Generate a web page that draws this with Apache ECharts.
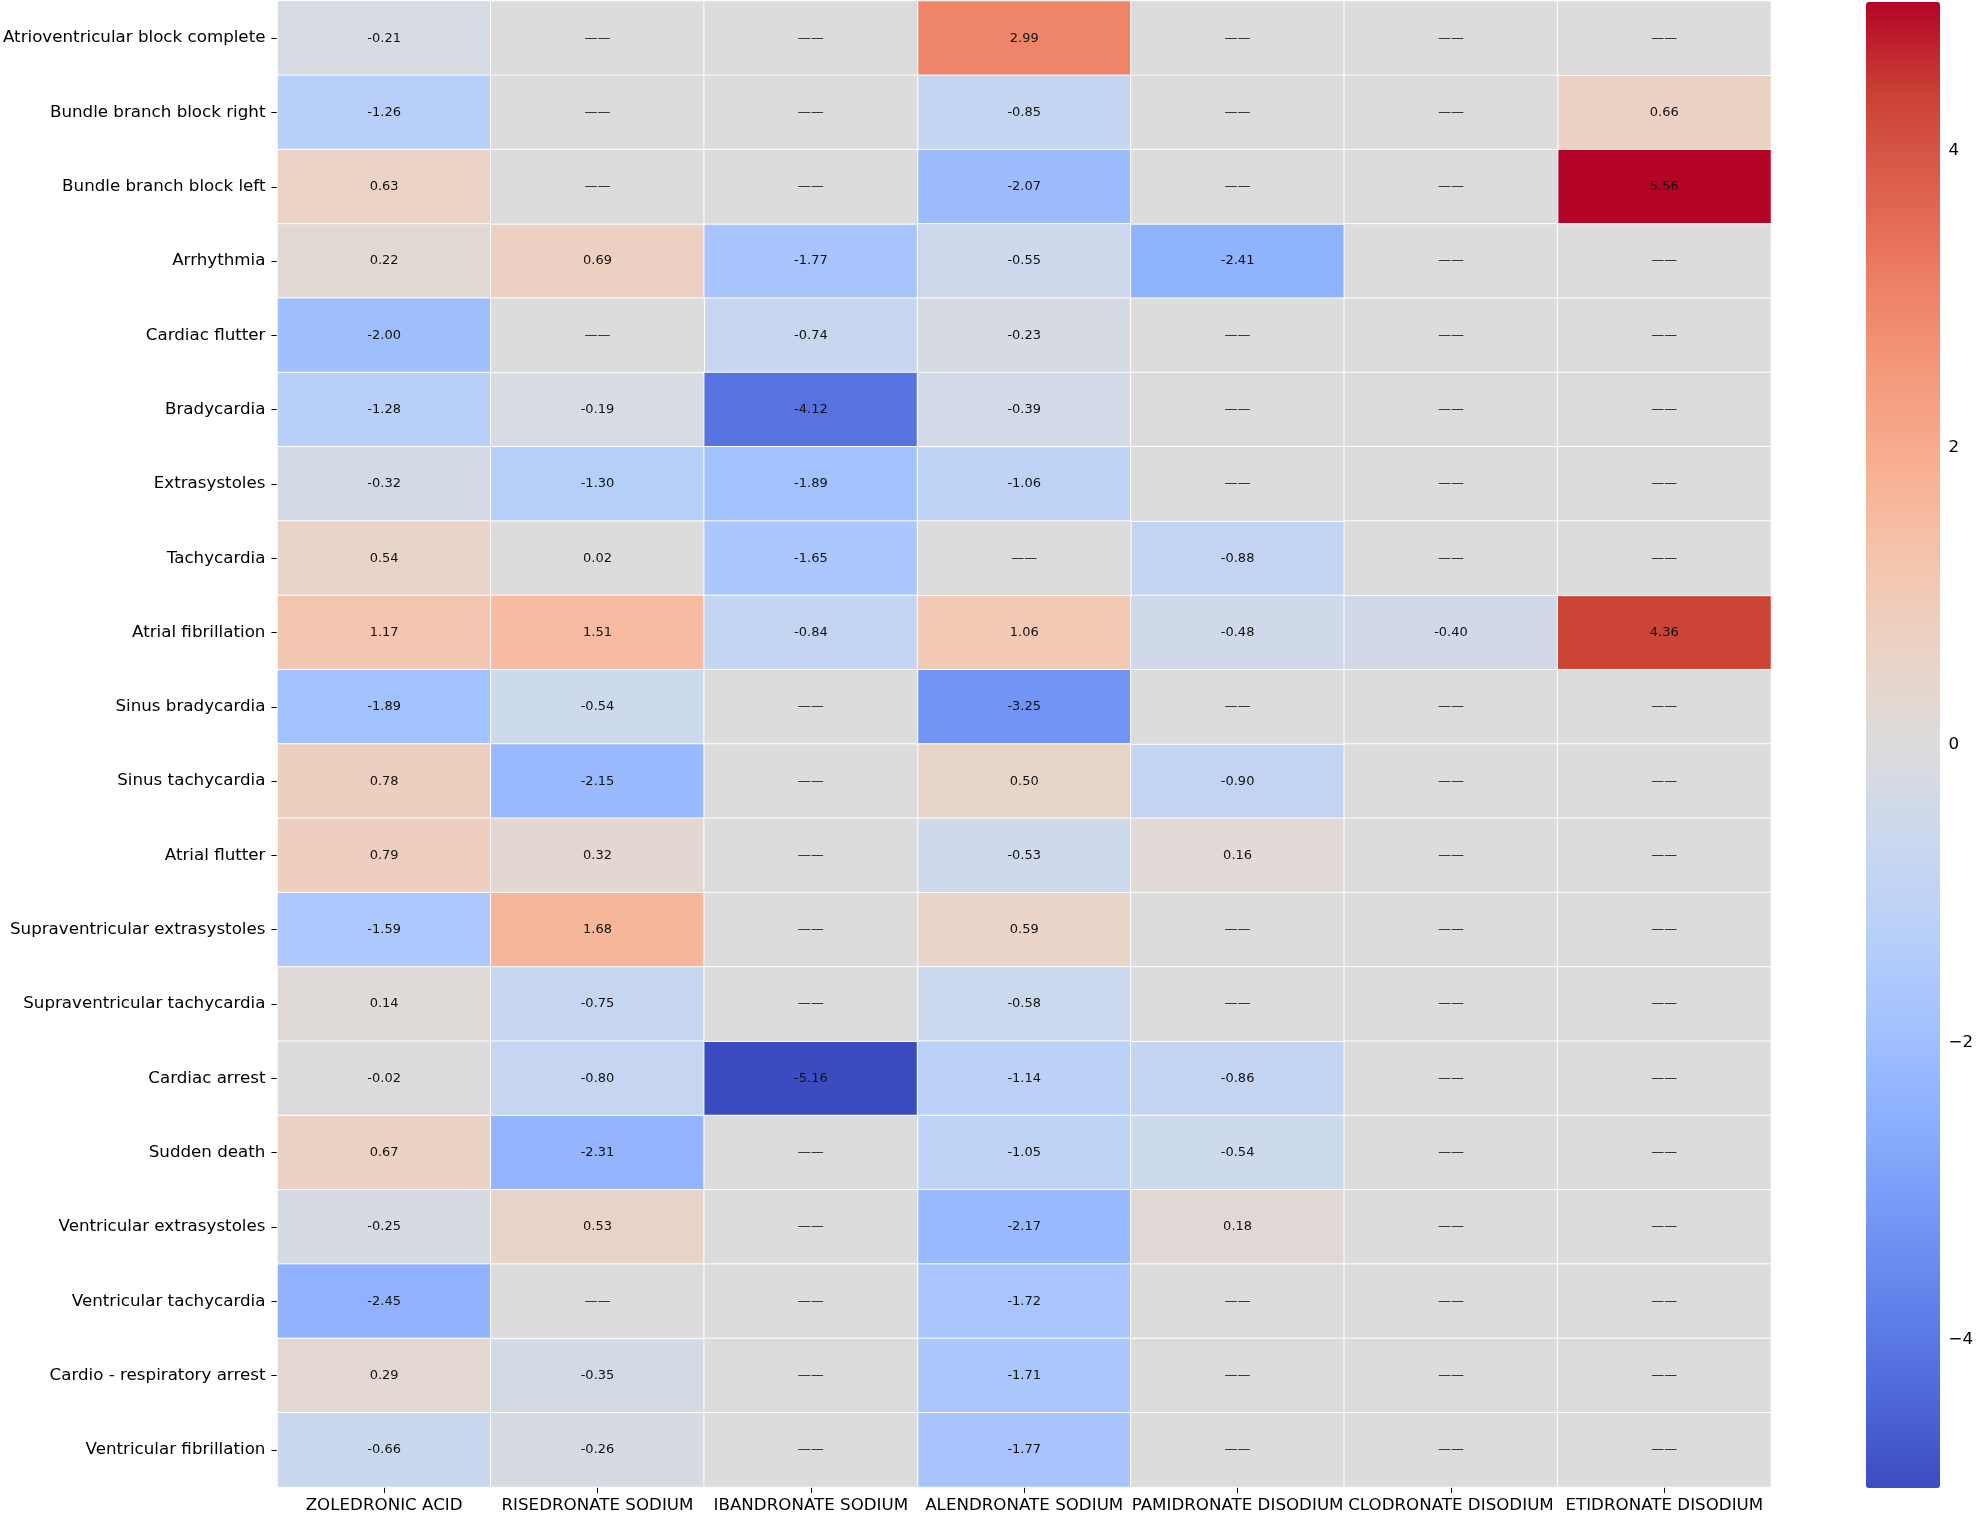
<!DOCTYPE html>
<html>
<head>
<meta charset="utf-8">
<script src="https://cdn.jsdelivr.net/npm/echarts@6/dist/echarts.min.js"></script>
<style>
html,body{margin:0;padding:0;background:#fff;}
#chart{width:1976px;height:1514px;}
</style>
</head>
<body>
<div id="chart"></div>
<script>
const drugs = ['ZOLEDRONIC ACID','RISEDRONATE SODIUM','IBANDRONATE SODIUM','ALENDRONATE SODIUM','PAMIDRONATE DISODIUM','CLODRONATE DISODIUM','ETIDRONATE DISODIUM'];
const events = ['Atrioventricular block complete','Bundle branch block right','Bundle branch block left','Arrhythmia','Cardiac flutter','Bradycardia','Extrasystoles','Tachycardia','Atrial fibrillation','Sinus bradycardia','Sinus tachycardia','Atrial flutter','Supraventricular extrasystoles','Supraventricular tachycardia','Cardiac arrest','Sudden death','Ventricular extrasystoles','Ventricular tachycardia','Cardio - respiratory arrest','Ventricular fibrillation'];
// one row per event, columns follow drugs; null = no data
const zoledronicAcid      = [-0.21,-1.26,0.63,0.22,-2.00,-1.28,-0.32,0.54,1.17,-1.89,0.78,0.79,-1.59,0.14,-0.02,0.67,-0.25,-2.45,0.29,-0.66];
const risedronateSodium   = [null,null,null,0.69,null,-0.19,-1.30,0.02,1.51,-0.54,-2.15,0.32,1.68,-0.75,-0.80,-2.31,0.53,null,-0.35,-0.26];
const ibandronateSodium   = [null,null,null,-1.77,-0.74,-4.12,-1.89,-1.65,-0.84,null,null,null,null,null,-5.16,null,null,null,null,null];
const alendronateSodium   = [2.99,-0.85,-2.07,-0.55,-0.23,-0.39,-1.06,null,1.06,-3.25,0.50,-0.53,0.59,-0.58,-1.14,-1.05,-2.17,-1.72,-1.71,-1.77];
const pamidronateDisodium = [null,null,null,-2.41,null,null,null,-0.88,-0.48,null,-0.90,0.16,null,null,-0.86,-0.54,0.18,null,null,null];
const clodronateDisodium  = [null,null,null,null,null,null,null,null,-0.40,null,null,null,null,null,null,null,null,null,null,null];
const etidronateDisodium  = [null,0.66,5.56,null,null,null,null,null,4.36,null,null,null,null,null,null,null,null,null,null,null];
const columns = [zoledronicAcid,risedronateSodium,ibandronateSodium,alendronateSodium,pamidronateDisodium,clodronateDisodium,etidronateDisodium];
const colorbarTicks = [-4,-2,0,2,4];
const colorMin = -5, colorMax = 5;
const coolwarm = ['#3b4cc0','#4f69d9','#6282ea','#7699f6','#8db0fe','#a3c2fe','#b8d0f9','#cbd8ee','#dddcdc','#ebd3c6','#f5c4ac','#f7af91','#f49a7b','#ec7f63','#de604d','#cb4335','#b40426'];

const valueData = [], missingData = [];
columns.forEach((col, xi) => {
  col.forEach((v, yi) => {
    if (v === null) missingData.push([xi, yi, 0]);
    else valueData.push([xi, yi, v]);
  });
});

const FONT = 'DejaVu Sans';
const chart = echarts.init(document.getElementById('chart'));
chart.setOption({
  animation: false,
  backgroundColor: '#fff',
  textStyle: {fontFamily: FONT},
  grid: [
    {left: 277, right: 205, top: 1, bottom: 21},
    {left: 1866, width: 74, top: 2, height: 1486}
  ],
  xAxis: [
    {type: 'category', data: drugs, gridIndex: 0, position: 'bottom',
     axisLine: {show: false}, splitLine: {show: false}, splitArea: {show: false},
     axisTick: {show: true, alignWithLabel: true, length: 6, lineStyle: {color: '#000', width: 1}},
     axisLabel: {interval: 0, margin: 10, fontSize: 16.7, color: '#000', fontFamily: FONT, hideOverlap: false}},
    {type: 'value', gridIndex: 1, show: false, min: 0, max: 1}
  ],
  yAxis: [
    {type: 'category', data: events, gridIndex: 0, inverse: true,
     axisLine: {show: false}, splitLine: {show: false}, splitArea: {show: false},
     axisTick: {show: true, alignWithLabel: true, length: 6, lineStyle: {color: '#000', width: 1}},
     axisLabel: {interval: 0, margin: 12, fontSize: 16.7, color: '#000', fontFamily: FONT}},
    {type: 'value', gridIndex: 1, min: colorMin, max: colorMax, position: 'right',
     axisLine: {show: false}, splitLine: {show: false},
     axisTick: {show: true, length: 6, customValues: colorbarTicks, lineStyle: {color: '#000', width: 1}},
     axisLabel: {show: true, margin: 12, fontSize: 16.7, color: '#000', fontFamily: FONT, customValues: colorbarTicks,
       formatter: v => (v < 0 ? '\u2212' + Math.abs(v) : String(v))}}
  ],
  visualMap: {
    type: 'continuous', seriesIndex: 0, min: colorMin, max: colorMax,
    calculable: false, orient: 'vertical', left: 1866, top: 2, padding: 0,
    itemWidth: 74, itemHeight: 1486, inRange: {color: coolwarm}, hoverLink: false
  },
  series: [
    {type: 'heatmap', xAxisIndex: 0, yAxisIndex: 0, data: valueData,
     itemStyle: {borderColor: '#fff', borderWidth: 1},
     label: {show: true, fontSize: 13, color: '#111', fontFamily: FONT, formatter: p => p.value[2].toFixed(2)},
     emphasis: {disabled: true}},
    {type: 'heatmap', xAxisIndex: 0, yAxisIndex: 0, data: missingData,
     itemStyle: {color: '#dcdcdc', borderColor: '#fff', borderWidth: 1},
     label: {show: true, fontSize: 13, color: '#222', fontFamily: FONT, formatter: () => '\u2014\u2014'},
     emphasis: {disabled: true}}
  ]
});
</script>
</body>
</html>
